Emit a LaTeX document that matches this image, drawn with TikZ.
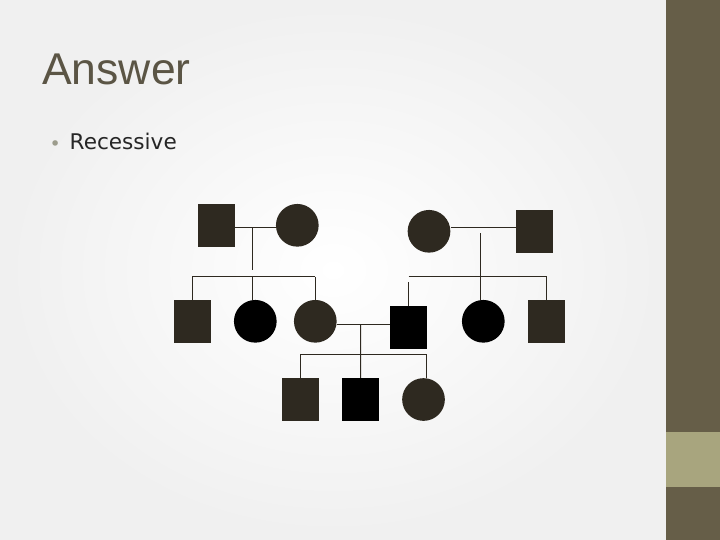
\documentclass[tikz,border=0pt]{standalone}
\usepackage{fontspec}
\setmainfont{Liberation Sans}
\newfontfamily\bodyfont{DejaVu Sans}
\usetikzlibrary{positioning, calc}
\definecolor{band}{HTML}{665E48}
\definecolor{bandlight}{HTML}{A8A57E}
\definecolor{carrier}{HTML}{2E2920}
\definecolor{titlegray}{HTML}{5B5545}
\definecolor{bulletgray}{HTML}{9C9C8C}

\begin{document}
\begin{tikzpicture}[x=1pt, y=-1pt,
  male/.style={rectangle, fill=carrier, minimum width=37pt, minimum height=43pt, inner sep=0pt},
  female/.style={circle, fill=carrier, minimum size=42.7pt, inner sep=0pt},
  affected/.style={fill=black},
  link/.style={draw=carrier, line width=1pt}]

  \useasboundingbox (0,0) rectangle (720,540);
  % slide background
  \shade[inner color=white, outer color=black!6] (0,0) rectangle (666,540);
  \fill[band] (666,0) rectangle (720,540);
  \fill[bandlight] (666,432) rectangle (720,487);

  \node[anchor=base west, inner sep=0pt, text=titlegray, font=\fontsize{44.5}{50}\selectfont] (title) at (42,85) {Answer};
  \node[anchor=base west, inner sep=0pt, text=bulletgray, font=\bodyfont\fontsize{19}{22}\selectfont] (dot) at (49.5,150.5) {•};
  \node[anchor=base west, inner sep=0pt, text=black!85, font=\bodyfont\fontsize{21.6}{26}\selectfont] (answer) at (69.5,150) {Recessive};

  % first generation
  \node[male] (f1) at (216.5,225.5) {};
  \node[female] (m1) at (297.3,225.3) {};
  \node[female] (m2) at (429,231.3) {};
  \node[male] (f2) at (534.7,231.3) {};

  % second generation
  \node[male] (c1) at (192.3,321.3) {};
  \node[female, affected] (c2) at (255.3,321.3) {};
  \node[female] (c3) at (315.3,321.3) {};
  \node[male, affected] (c4) at (408.7,327.3) {};
  \node[female, affected] (c5) at (483.3,321.3) {};
  \node[male] (c6) at (546,321.3) {};

  % third generation
  \node[male] (g1) at (300.5,399.5) {};
  \node[male, affected] (g2) at (360.5,399.5) {};
  \node[female] (g3) at (423.5,399.5) {};

  % left family
  \coordinate (u1) at (252.3,228);
  \coordinate (s1) at (252.3,276.7);
  \draw[link] (f1.east |- u1) -- (m1.west |- u1);
  \draw[link] (u1) -- ($(s1)+(0,-6.5)$);
  \draw[link] (c1.north |- s1) -- (c3.north |- s1);
  \draw[link] (c1.north |- s1) -- (c1.north);
  \draw[link] (s1) -- (c2.north -| s1);
  \draw[link] (c3.north |- s1) -- (c3.north);

  % right family
  \coordinate (u2) at (480.7,228);
  \coordinate (s2) at (480.7,276.7);
  \draw[link] (m2.east |- u2) -- (f2.west |- u2);
  \draw[link] ($(u2)+(0,5)$) -- (c5.north -| u2);
  \draw[link] (c4.north |- s2) -- (546.7,276.7) coordinate (s2r);
  \draw[link] ($(c4.north |- s2)+(0,5.5)$) -- (c4.north);
  \draw[link] (s2r) -- (c6.north -| s2r);

  % third family
  \coordinate (u3) at (360.7,324.7);
  \coordinate (s3) at (360.7,354.3);
  \draw[link] (c3.east |- u3) -- (c4.west |- u3);
  \draw[link] (u3) -- (g2.north);
  \draw[link] (g1.north |- s3) -- (426.7,354.3) coordinate (s3r);
  \draw[link] (g1.north |- s3) -- (g1.north);
  \draw[link] (s3r) -- (g3.north -| s3r);
\end{tikzpicture}
\end{document}
